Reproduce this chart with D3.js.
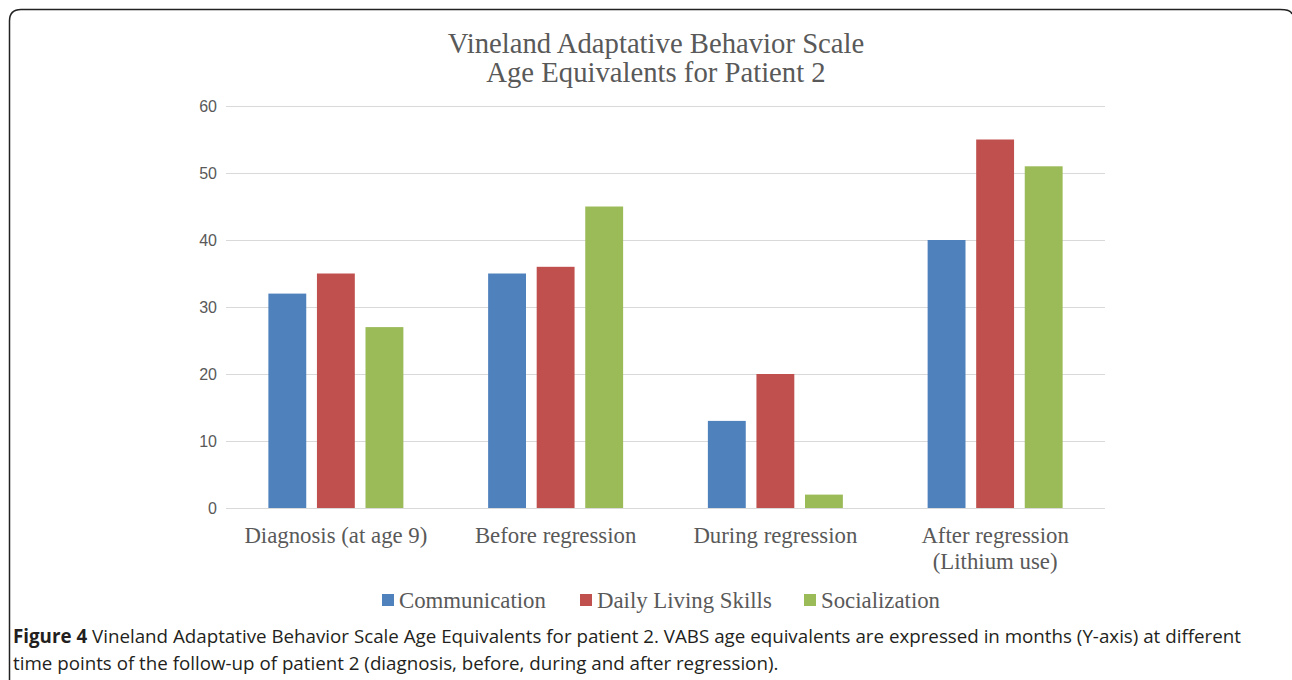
<!DOCTYPE html>
<html><head><meta charset="utf-8">
<script src="https://cdn.jsdelivr.net/npm/d3@7"></script>
<style>body{margin:0;background:#fff;} svg{display:block;}</style>
</head><body>
<svg id="chart" width="1292" height="680"></svg>
<script>
const categories = ["Diagnosis (at age 9)", "Before regression", "During regression", "After regression\n(Lithium use)"];
const seriesNames = ["Communication", "Daily Living Skills", "Socialization"];
const communication = [32, 35, 13, 40];
const dailyLiving = [35, 36, 20, 55];
const socialization = [27, 45, 2, 51];
const yTicks = [0, 10, 20, 30, 40, 50, 60];
const colors = ["#4f81bd", "#c0504d", "#9bbb59"];
const titleLines = ["Vineland Adaptative Behavior Scale", "Age Equivalents for Patient 2"];

const series = [communication, dailyLiving, socialization];
const svg = d3.select("#chart");

// frame
svg.append("path")
  .attr("d", "M9.5,680 L9.5,21 Q9.5,9.5 21,9.5 L1280,9.5 Q1291,9.5 1292,14")
  .attr("fill", "none").attr("stroke", "#222").attr("stroke-width", 1.5);

const pLeft = 226, pRight = 1105, pTop = 106, pBottom = 508;
const x = d3.scaleBand().domain(categories).range([pLeft, pRight]);
const y = d3.scaleLinear().domain([0, 60]).range([pBottom, pTop]);
const groupW = 135;
const inner = d3.scaleBand().domain(d3.range(3)).range([0, groupW]).paddingInner(0.22);

// title
svg.append("text").attr("x", 656).attr("text-anchor", "middle")
  .attr("font-family", "Liberation Serif, Times New Roman, serif").attr("font-size", 28.7).attr("fill", "#595959")
  .selectAll("tspan").data(titleLines).join("tspan")
  .attr("x", 656).attr("y", (d, i) => 53 + i * 29).text(d => d);

// grid
const g = svg.append("g");
g.selectAll("line.grid").data(yTicks).join("line")
  .attr("x1", pLeft).attr("x2", pRight)
  .attr("y1", d => Math.round(y(d)) + 0.5).attr("y2", d => Math.round(y(d)) + 0.5)
  .attr("stroke", "#d9d9d9").attr("stroke-width", 1);

// y axis labels
const yAxis = d3.axisLeft(y).tickValues(yTicks).tickSize(0).tickPadding(9);
const ya = svg.append("g").attr("transform", `translate(${pLeft},0)`).call(yAxis);
ya.select(".domain").remove();
ya.selectAll("text").attr("font-family", "Liberation Sans, Arial, sans-serif").attr("font-size", 16).attr("fill", "#595959");

// bars
categories.forEach((c, ci) => {
  const gx = x(c) + x.bandwidth() / 2 - groupW / 2;
  series.forEach((s, si) => {
    svg.append("rect")
      .attr("x", gx + inner(si)).attr("width", inner.bandwidth())
      .attr("y", y(s[ci])).attr("height", y(0) - y(s[ci]))
      .attr("fill", colors[si]);
  });
});

// x labels
const xa = svg.append("g").selectAll("text").data(categories).join("text")
  .attr("text-anchor", "middle")
  .attr("font-family", "Liberation Serif, Times New Roman, serif").attr("font-size", 22.8).attr("fill", "#595959");
xa.selectAll("tspan").data(d => d.split("\n").map(t => ({t, c: d}))).join("tspan")
  .attr("x", d => x(d.c) + x.bandwidth() / 2)
  .attr("y", (d, i) => 543 + i * 26).text(d => d.t);

// legend
const legendX = [382, 580, 804];
const lg = svg.append("g");
seriesNames.forEach((n, i) => {
  lg.append("rect").attr("x", legendX[i]).attr("y", 594).attr("width", 12).attr("height", 12).attr("fill", colors[i]);
  lg.append("text").attr("x", legendX[i] + 17).attr("y", 608)
    .attr("font-family", "Liberation Serif, Times New Roman, serif").attr("font-size", 22.8).attr("fill", "#595959").text(n);
});

// caption
const cap = svg.append("text").attr("font-family", "Open Sans, sans-serif").attr("font-size", 18.75).attr("fill", "#231f20");
const l1 = cap.append("tspan").attr("x", 13).attr("y", 643);
l1.append("tspan").attr("font-weight", "bold").text("Figure 4");
l1.append("tspan").text(" Vineland Adaptative Behavior Scale Age Equivalents for patient 2. VABS age equivalents are expressed in months (Y-axis) at different");
cap.append("tspan").attr("x", 13).attr("y", 670).text("time points of the follow-up of patient 2 (diagnosis, before, during and after regression).");
</script>
</body></html>
